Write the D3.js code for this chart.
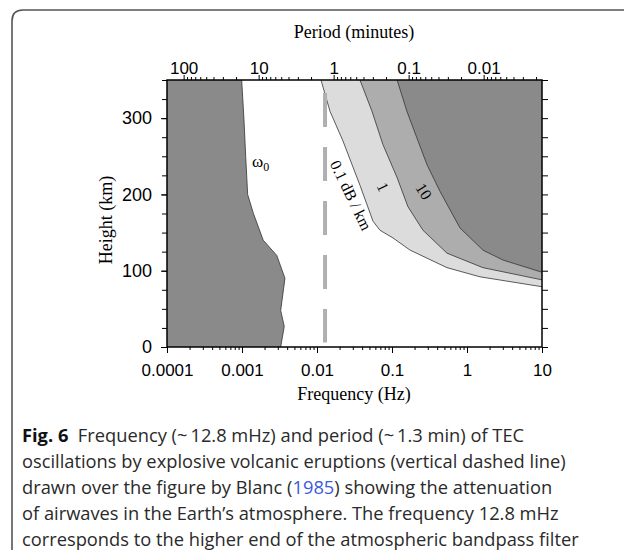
<!DOCTYPE html>
<html><head><meta charset="utf-8">
<script src="https://cdn.jsdelivr.net/npm/d3@7"></script>
<style>
body{margin:0;background:#fff;}
svg{display:block;}
</style></head>
<body>
<svg id="chart" width="624" height="550"></svg>
<script>
// ---- data ----
const freqTicks = [0.0001, 0.001, 0.01, 0.1, 1, 10];
const freqTickLabels = ["0.0001", "0.001", "0.01", "0.1", "1", "10"];
const periodTicks = [100, 10, 1, 0.1, 0.01];
const periodTickLabels = ["100", "10", "1", "0.1", "0.01"];
const heightTicks = [0, 100, 200, 300];

const omega0Freq   = [0.00099, 0.00106, 0.00112, 0.00119, 0.00142, 0.00192, 0.00291, 0.00374, 0.00328, 0.00366, 0.00328];
const omega0Height = [350, 300, 250, 200, 175, 140, 120, 90, 48, 27, 0];

const att01Freq   = [0.0113, 0.0149, 0.0222, 0.0374, 0.0558, 0.0692, 0.103, 0.174, 0.541, 1.49, 10];
const att01Height = [350, 309, 270, 212, 165, 153, 143, 127, 104, 92, 79];
const att1Freq    = [0.0374, 0.0541, 0.0759, 0.117, 0.163, 0.259, 0.541, 1.63, 10];
const att1Height  = [350, 309, 265, 222, 184, 153, 123, 104, 88];
const att10Freq   = [0.117, 0.158, 0.215, 0.293, 0.437, 0.593, 0.807, 1.63, 3.02, 10];
const att10Height = [350, 309, 274, 239, 204, 180, 156, 127, 114, 98];

const eruptionFreq = 0.0128;
const eruptionHeights = [6, 333];

const captionLines = [
  [{t:"Fig. 6", b:true}, {t:"  Frequency (~\u200912.8 mHz) and period (~\u20091.3 min) of TEC"}],
  [{t:"oscillations by explosive volcanic eruptions (vertical dashed line)"}],
  [{t:"drawn over the figure by Blanc ("}, {t:"1985", c:"#3b5bdb"}, {t:") showing the attenuation"}],
  [{t:"of airwaves in the Earth\u2019s atmosphere. The frequency 12.8 mHz"}],
  [{t:"corresponds to the higher end of the atmospheric bandpass filter"}]
];

// ---- drawing ----
const svg = d3.select("#chart");
const W = 624;
const x = d3.scaleLog().domain([1e-4, 10]).range([167, 542]);
const y = d3.scaleLinear().domain([0, 350]).range([347, 80]);
const p = d3.scaleLog().domain([1/(60*1e-4), 1/(60*10)]).range([167, 542]);

const DARK = "#8a8a8a", MED = "#adadad", LIGHT = "#dcdcdc";

// card border
svg.append("path")
  .attr("d", `M12,550 L12,21 Q12,10 23,10 L${W},10`)
  .attr("fill", "none").attr("stroke", "#555").attr("stroke-width", 1.6);

const line = d3.line().x(d => x(d[0])).y(d => y(d[1]));
const zip = (a, b) => a.map((v, i) => [v, b[i]]);

// left region (below omega0)
const om = zip(omega0Freq, omega0Height);
svg.append("path")
  .attr("d", line([[1e-4, 350], ...om, [1e-4, 0]]) + "Z")
  .attr("fill", DARK);
svg.append("path").attr("d", line(om)).attr("fill", "none").attr("stroke", "#333").attr("stroke-width", 0.8);

// attenuation regions
[[att01Freq, att01Height, LIGHT], [att1Freq, att1Height, MED], [att10Freq, att10Height, DARK]].forEach(([f, h, c]) => {
  const pts = zip(f, h);
  svg.append("path").attr("d", line([...pts, [10, 350]]) + "Z").attr("fill", c);
});
[[att01Freq, att01Height], [att1Freq, att1Height], [att10Freq, att10Height]].forEach(([f, h]) => {
  svg.append("path").attr("d", line(zip(f, h))).attr("fill", "none").attr("stroke", "#333").attr("stroke-width", 0.8);
});

// eruption dashed line
svg.append("line")
  .attr("x1", x(eruptionFreq)).attr("x2", x(eruptionFreq))
  .attr("y1", y(eruptionHeights[1])).attr("y2", y(eruptionHeights[0]))
  .attr("stroke", "#b0b0b0").attr("stroke-width", 4).attr("stroke-dasharray", "34,20");

// frame
svg.append("rect").attr("x", 167).attr("y", 80).attr("width", 375).attr("height", 267)
  .attr("fill", "none").attr("stroke", "#000").attr("stroke-width", 1.5);

// minor tick generators
function logMinors(lo, hi) {
  const out = [];
  for (let e = -5; e <= 3; e++) for (let k = 2; k <= 9; k++) {
    const v = k * Math.pow(10, e);
    if (v >= lo && v <= hi) out.push(v);
  }
  return out;
}
const sansFont = "'Liberation Sans', Arial, sans-serif";
const serifFont = "'Liberation Serif', 'Times New Roman', serif";

function styleAxis(size) {
  return g => {
    g.select(".domain").remove();
    g.selectAll(".tick line").attr("stroke", "#000").attr("stroke-width", 1);
    g.selectAll(".tick text").attr("font-family", sansFont).attr("font-size", size).attr("fill", "#000");
  };
}

// bottom axis
svg.append("g").attr("transform", "translate(0,347)")
  .call(d3.axisBottom(x).tickValues(logMinors(1e-4, 10)).tickSize(3).tickFormat("")).call(styleAxis(17));
svg.append("g").attr("transform", "translate(0,347)")
  .call(d3.axisBottom(x).tickValues(freqTicks).tickSize(6).tickPadding(11)
    .tickFormat((d, i) => freqTickLabels[i])).call(styleAxis(17));

// top axis (period)
svg.append("g").attr("transform", "translate(0,80)")
  .call(d3.axisTop(p).tickValues(logMinors(0.0016, 167)).tickSize(3).tickFormat("")).call(styleAxis(17));
svg.append("g").attr("transform", "translate(0,80)")
  .call(d3.axisTop(p).tickValues(periodTicks).tickSize(5).tickPadding(1)
    .tickFormat((d, i) => periodTickLabels[i])).call(styleAxis(17));

// left axis
const hMinor = d3.range(0, 351, 25);
svg.append("g").attr("transform", "translate(167,0)")
  .call(d3.axisLeft(y).tickValues(hMinor).tickSize(5).tickFormat("")).call(styleAxis(18));
svg.append("g").attr("transform", "translate(167,0)")
  .call(d3.axisLeft(y).tickValues(heightTicks).tickSize(6).tickPadding(9).tickFormat(d3.format("d"))).call(styleAxis(18));
// right axis
svg.append("g").attr("transform", "translate(542,0)")
  .call(d3.axisRight(y).tickValues(hMinor).tickSize(6).tickFormat("")).call(styleAxis(17));

// axis titles
svg.append("text").attr("x", 354).attr("y", 38).attr("text-anchor", "middle")
  .attr("font-family", serifFont).attr("font-size", 18).text("Period (minutes)");
svg.append("text").attr("x", 354).attr("y", 400).attr("text-anchor", "middle")
  .attr("font-family", serifFont).attr("font-size", 18).text("Frequency (Hz)");
svg.append("text").attr("transform", "translate(112,220) rotate(-90)").attr("text-anchor", "middle")
  .attr("font-family", serifFont).attr("font-size", 18).text("Height (km)");

// annotations
const om0 = svg.append("text").attr("x", x(0.00136)).attr("y", y(236))
  .attr("font-family", serifFont).attr("font-size", 17);
om0.append("tspan").text("\u03c9");
om0.append("tspan").attr("font-size", 12).attr("dy", 4).text("0");

function rotLabel(f, h, ang, txt) {
  svg.append("text").attr("transform", `translate(${x(f)},${y(h)}) rotate(${ang})`)
    .attr("text-anchor", "middle").attr("dy", "0.35em")
    .attr("font-family", serifFont).attr("font-size", 16).text(txt);
}
rotLabel(0.0284, 199, 64, "0.1 dB / km");
rotLabel(0.0759, 210, 64, "1");
rotLabel(0.267, 204, 58, "10");

// caption
const capFont = "'Open Sans', 'Noto Sans', sans-serif";
const baselines = [442, 468, 494, 520, 546];
captionLines.forEach((segs, i) => {
  const t = svg.append("text").attr("x", 22).attr("y", baselines[i])
    .attr("font-family", capFont).attr("font-size", 18.3).attr("fill", "#2a2a2a")
    .attr("xml:space", "preserve").style("white-space", "pre");
  segs.forEach(s => {
    const ts = t.append("tspan").text(s.t);
    if (s.b) ts.attr("font-weight", "bold").attr("fill", "#111");
    if (s.c) ts.attr("fill", s.c);
  });
});
</script>
</body></html>
